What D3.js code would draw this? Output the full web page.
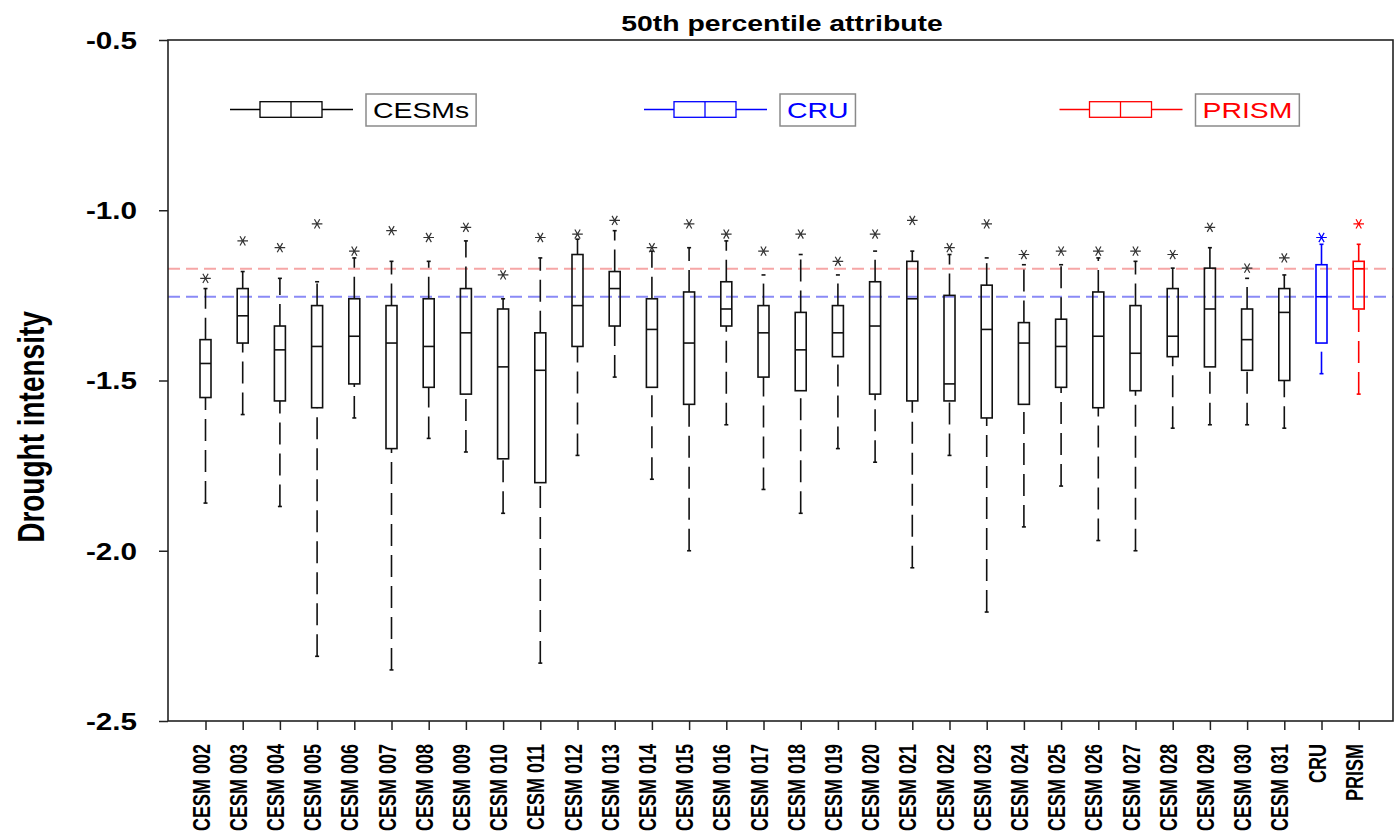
<!DOCTYPE html>
<html><head><meta charset="utf-8">
<script src="https://cdn.jsdelivr.net/npm/d3@7"></script>
<style>
body{margin:0;background:#fff}
svg{display:block}
text{font-family:"Liberation Sans",Arial,Helvetica,sans-serif}
</style>
</head><body>
<svg id="c" width="1396" height="835"></svg>
<script>
// ---------- data ----------
const categories = ["CESM 002","CESM 003","CESM 004","CESM 005","CESM 006","CESM 007","CESM 008","CESM 009","CESM 010","CESM 011",
  "CESM 012","CESM 013","CESM 014","CESM 015","CESM 016","CESM 017","CESM 018","CESM 019","CESM 020","CESM 021",
  "CESM 022","CESM 023","CESM 024","CESM 025","CESM 026","CESM 027","CESM 028","CESM 029","CESM 030","CESM 031","CRU","PRISM"];
const whiskerLow  = [-1.86,-1.60,-1.87,-2.31,-1.61,-2.35,-1.67,-1.71,-1.89,-2.33,
  -1.72,-1.49,-1.79,-2.00,-1.63,-1.82,-1.89,-1.70,-1.74,-2.05,
  -1.72,-2.18,-1.93,-1.81,-1.97,-2.00,-1.64,-1.63,-1.63,-1.64,-1.48,-1.54];
const quartile1   = [-1.55,-1.39,-1.56,-1.58,-1.51,-1.70,-1.52,-1.54,-1.73,-1.80,
  -1.40,-1.34,-1.52,-1.57,-1.34,-1.49,-1.53,-1.43,-1.54,-1.56,
  -1.56,-1.61,-1.57,-1.52,-1.58,-1.53,-1.43,-1.46,-1.47,-1.50,-1.39,-1.29];
const medians     = [-1.45,-1.31,-1.41,-1.40,-1.37,-1.39,-1.40,-1.36,-1.46,-1.47,
  -1.28,-1.23,-1.35,-1.39,-1.29,-1.36,-1.41,-1.36,-1.34,-1.26,
  -1.51,-1.35,-1.39,-1.40,-1.37,-1.42,-1.37,-1.29,-1.38,-1.30,-1.254,-1.172];
const quartile3   = [-1.38,-1.23,-1.34,-1.28,-1.26,-1.28,-1.26,-1.23,-1.29,-1.36,
  -1.13,-1.18,-1.26,-1.24,-1.21,-1.28,-1.30,-1.28,-1.21,-1.15,
  -1.25,-1.22,-1.33,-1.32,-1.24,-1.28,-1.23,-1.17,-1.29,-1.23,-1.16,-1.15];
const whiskerHigh = [-1.23,-1.18,-1.20,-1.21,-1.14,-1.15,-1.15,-1.09,-1.26,-1.14,
  -1.085,-1.06,-1.12,-1.11,-1.09,-1.19,-1.13,-1.19,-1.12,-1.12,
  -1.13,-1.14,-1.16,-1.16,-1.14,-1.15,-1.17,-1.11,-1.20,-1.19,-1.10,-1.10];
const outliers    = [-1.20,-1.09,-1.11,-1.04,-1.12,-1.06,-1.08,-1.05,-1.19,-1.08,
  -1.07,-1.03,-1.11,-1.04,-1.07,-1.12,-1.07,-1.15,-1.07,-1.03,
  -1.11,-1.04,-1.13,-1.12,-1.12,-1.12,-1.13,-1.05,-1.17,-1.14,-1.08,-1.04];
const yTicks = [-0.5,-1.0,-1.5,-2.0,-2.5];
const legendNames  = ["CESMs","CRU","PRISM"];
const legendColors = ["#000000","#0000ff","#ff0000"];
const titleText = "50th percentile attribute";
const yLabel = "Drought intensity";

// ---------- layout ----------
const svg = d3.select("#c");
const K = 1.29; // horizontal stretch of the original picture's text
const L = 168, R = 1393, T = 40, B = 721;
const x = d3.scalePoint().domain(categories).range([205.5, 1358.7]);
const y = d3.scaleLinear().domain([-2.5, -0.5]).range([B, T]);
const colorOf = c => c === "CRU" ? "#0000ff" : (c === "PRISM" ? "#ff0000" : "#111111");

// reference lines (observed medians)
const iCRU = categories.indexOf("CRU"), iPR = categories.indexOf("PRISM");
const refs = [{v: medians[iPR], color: "#f6a6a6"}, {v: medians[iCRU], color: "#8a8af6"}];
svg.append("g").selectAll("line").data(refs).join("line")
  .attr("x1", L).attr("x2", R)
  .attr("y1", d => y(d.v)).attr("y2", d => y(d.v))
  .attr("stroke", d => d.color).attr("stroke-width", 2)
  .attr("stroke-dasharray", "12,6");

// boxes
const data = categories.map((c, i) => ({c, lo: whiskerLow[i], q1: quartile1[i], med: medians[i],
  q3: quartile3[i], hi: whiskerHigh[i], out: outliers[i], color: colorOf(c)}));
const bw = 11;
const g = svg.append("g").selectAll("g").data(data).join("g")
  .attr("transform", d => `translate(${x(d.c)},0)`);
g.append("line").attr("x1", 0).attr("x2", 0)
  .attr("y1", d => y(d.lo)).attr("y2", d => y(d.q1))
  .attr("stroke", d => d.color).attr("stroke-width", 1.6).attr("stroke-dasharray", "22,9");
g.append("line").attr("x1", 0).attr("x2", 0)
  .attr("y1", d => y(d.q3)).attr("y2", d => y(d.hi))
  .attr("stroke", d => d.color).attr("stroke-width", 1.6).attr("stroke-dasharray", "22,9");
g.append("line").attr("x1", -2).attr("x2", 2)
  .attr("y1", d => y(d.lo)).attr("y2", d => y(d.lo))
  .attr("stroke", d => d.color).attr("stroke-width", 1.6);
g.append("line").attr("x1", -2).attr("x2", 2)
  .attr("y1", d => y(d.hi)).attr("y2", d => y(d.hi))
  .attr("stroke", d => d.color).attr("stroke-width", 1.6);
g.append("rect").attr("x", -bw/2).attr("width", bw)
  .attr("y", d => y(d.q3)).attr("height", d => y(d.q1) - y(d.q3))
  .attr("fill", "none").attr("stroke", d => d.color).attr("stroke-width", 1.6);
g.append("line").attr("x1", -bw/2).attr("x2", bw/2)
  .attr("y1", d => y(d.med)).attr("y2", d => y(d.med))
  .attr("stroke", d => d.color).attr("stroke-width", 1.6);
// asterisk markers
const r = 5.3;
const star = () => {
  let p = "";
  [0, 60, 120].forEach(a => {
    const dx = r * Math.cos(a * Math.PI / 180), dy = r * Math.sin(a * Math.PI / 180);
    p += `M${-dx},${-dy}L${dx},${dy}`;
  });
  return p;
};
g.append("path").attr("d", star())
  .attr("transform", d => `translate(0,${y(d.out)})`)
  .attr("fill", "none").attr("stroke", d => d.c.startsWith("CESM") ? "#333" : d.color).attr("stroke-width", 1.2);

// frame
svg.append("rect").attr("x", L).attr("y", T).attr("width", R - L).attr("height", B - T)
  .attr("fill", "none").attr("stroke", "#222").attr("stroke-width", 1.6);

// y axis
const gy = svg.append("g").attr("transform", `translate(${L},0)`)
  .call(d3.axisLeft(y).tickValues(yTicks).tickSize(9).tickFormat(d => d.toFixed(1)));
gy.select(".domain").remove();
gy.selectAll(".tick line").attr("stroke", "#222").attr("stroke-width", 1.5);
gy.selectAll(".tick text").attr("x", 0).attr("dy", "0.36em")
  .attr("transform", `translate(-31,0) scale(${K},1)`)
  .attr("fill", "#000").style("font-size", "23px").style("font-weight", "bold")
  .style("font-family", '"Liberation Sans",Arial,sans-serif');

// x axis
const gx = svg.append("g").attr("transform", `translate(0,${B})`)
  .call(d3.axisBottom(x).tickSize(9));
gx.select(".domain").remove();
gx.selectAll(".tick line").attr("stroke", "#222").attr("stroke-width", 1.5);
gx.selectAll(".tick text").attr("x", 0).attr("y", 0).attr("dy", null)
  .attr("text-anchor", "end")
  .attr("transform", `translate(3.5,23) scale(${K},1) rotate(-90)`)
  .attr("fill", "#000").style("font-size", "18px").style("font-weight", "bold")
  .style("font-family", '"Liberation Sans",Arial,sans-serif');

// y label
svg.append("text").attr("transform", `translate(44,427) scale(${K},1) rotate(-90)`)
  .attr("text-anchor", "middle").style("font-size", "28px").style("font-weight", "bold")
  .text(yLabel);

// title
svg.append("text").attr("transform", `translate(782,31) scale(${K},1)`)
  .attr("text-anchor", "middle").style("font-size", "22px").style("font-weight", "bold")
  .text(titleText);

// legend
const legX = [230, 644, 1059.5];
const ly = 109.5;
legendNames.forEach((name, i) => {
  const x0 = legX[i], col = legendColors[i];
  const lg = svg.append("g");
  lg.append("line").attr("x1", x0).attr("x2", x0 + 123).attr("y1", ly).attr("y2", ly)
    .attr("stroke", col).attr("stroke-width", 1.3);
  lg.append("rect").attr("x", x0 + 30).attr("y", ly - 7.8).attr("width", 62).attr("height", 15.6)
    .attr("fill", "#fff").attr("stroke", col).attr("stroke-width", 1.3);
  lg.append("line").attr("x1", x0 + 61).attr("x2", x0 + 61).attr("y1", ly - 7.8).attr("y2", ly + 7.8)
    .attr("stroke", col).attr("stroke-width", 1.3);
  const bx = x0 + 136;
  const t = lg.append("text").attr("transform", `translate(${bx + 7},118) scale(${K},1)`)
    .style("font-size", "22px").attr("fill", col).text(name);
  const w = t.node().getComputedTextLength() * K;
  lg.insert("rect", "text").attr("x", bx).attr("y", 94).attr("width", w + 14).attr("height", 32)
    .attr("fill", "#fff").attr("stroke", "#8a8a8a").attr("stroke-width", 1.5);
});
</script>
</body></html>
